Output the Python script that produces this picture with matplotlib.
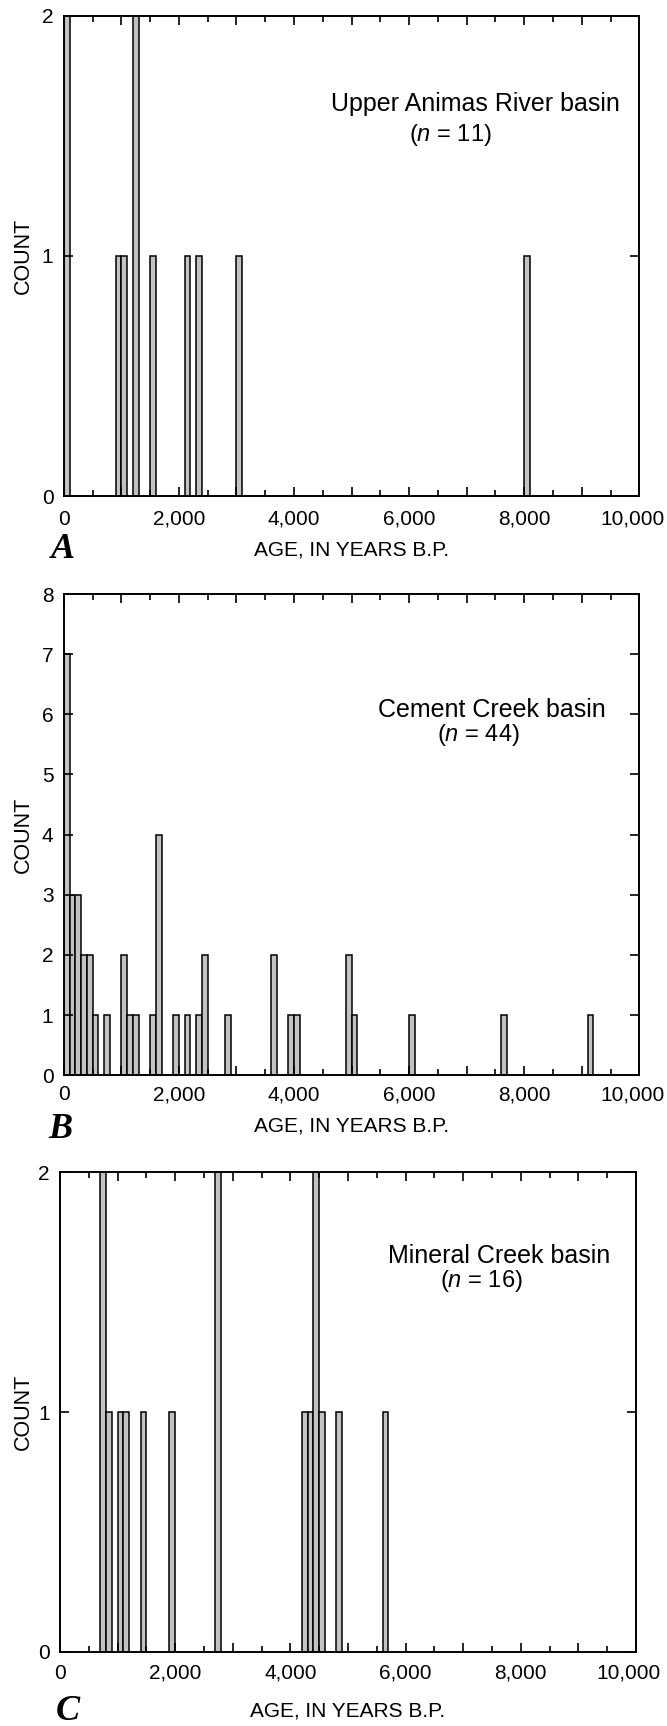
import matplotlib
matplotlib.use('Agg')
import matplotlib.pyplot as plt
from matplotlib.ticker import MultipleLocator
from matplotlib.transforms import ScaledTranslation

# Tipografías
plt.rcParams['font.family'] = ['Liberation Sans', 'DejaVu Sans']
plt.rcParams['mathtext.fontset'] = 'custom'
plt.rcParams['mathtext.it'] = 'Liberation Sans:italic'
plt.rcParams['mathtext.rm'] = 'Liberation Sans'

# Datos: inicio de cada intervalo de 100 años y número de dataciones
edades_a = [0, 900, 1000, 1200, 1500, 2100, 2300, 3000, 8000]
conteo_a = [2, 1, 1, 2, 1, 1, 1, 1, 1]

edades_b = [0, 100, 200, 300, 400, 500, 700, 1000, 1100, 1200, 1500, 1600, 1900,
            2100, 2300, 2400, 2800, 3600, 3900, 4000, 4900, 5000, 6000, 7600, 9100]
conteo_b = [7, 3, 3, 2, 2, 1, 1, 2, 1, 1, 1, 4, 1,
            1, 1, 2, 1, 2, 1, 1, 2, 1, 1, 1, 1]

edades_c = [700, 800, 1000, 1100, 1400, 1900, 2700, 4200, 4300, 4400, 4500, 4800, 5600]
conteo_c = [2, 1, 1, 1, 1, 1, 2, 1, 1, 2, 1, 1, 1]

cuencas = ['Upper Animas River basin', 'Cement Creek basin', 'Mineral Creek basin']
n_total = [11, 44, 16]
letras = ['A', 'B', 'C']
y_max = [2, 8, 2]
xticks = list(range(0, 10001, 1000))
xtick_labels = ['0', '', '2,000', '', '4,000', '', '6,000', '', '8,000', '', '10,000']

# Tamaño de la figura en píxeles
W, H = 667, 1726
fig = plt.figure(figsize=(W / 100, H / 100), dpi=100)


def fx(x):
    return x / W


def fy(y):
    return 1 - y / H


# Posición de cada panel (izquierda, derecha, arriba, abajo) en píxeles
cajas = [(63.8, 639.3, 15.7, 496.0),
         (63.8, 639.3, 594.0, 1075.3),
         (60.0, 635.9, 1172.3, 1651.7)]
pad_x = [10, 7, 8.5]
xlabel_y = [550.5, 1126.0, 1710.5]
letra_pos = [(62.5, 550), (60.5, 1130), (68, 1711)]
texto_pos = [((475, 104), (450, 135)),
             ((492, 710), (478.5, 735)),
             ((499.5, 1256), (481, 1281.5))]

datos = [(edades_a, conteo_a), (edades_b, conteo_b), (edades_c, conteo_c)]

for i in range(3):
    l, r, t, b = cajas[i]
    ax = fig.add_axes([fx(l), fy(b), fx(r) - fx(l), (b - t) / H])
    edades, conteo = datos[i]
    ax.bar(edades, conteo, width=100, align='edge', color='#c2c2c2',
           edgecolor='black', linewidth=1.1)

    ax.set_xlim(0, 10000)
    ax.set_ylim(0, y_max[i])
    ax.set_xticks(xticks)
    ax.set_xticklabels(xtick_labels)
    ax.xaxis.set_minor_locator(MultipleLocator(500))
    ax.set_yticks(range(0, y_max[i] + 1))

    for s in ax.spines.values():
        s.set_linewidth(1.4)
    ax.tick_params(axis='x', which='major', direction='in', top=True,
                   length=6.5, width=1.2, labelsize=15, pad=pad_x[i])
    ax.tick_params(axis='x', which='minor', direction='in', top=True,
                   length=4.3, width=1.2)
    ax.tick_params(axis='y', direction='in', right=True, length=6.5,
                   width=1.2, labelsize=15, pad=7.5)

    # El último rótulo va un poco a la izquierda para que quepa
    ultimo = ax.get_xticklabels()[-1]
    ultimo.set_transform(ultimo.get_transform() +
                         ScaledTranslation(-0.07, 0, fig.dpi_scale_trans))

    # Etiquetas de los ejes
    ax.set_ylabel('COUNT', fontsize=15.5)
    ax.yaxis.label.set_va('center')
    ax.yaxis.set_label_coords((23.4 - l) / (r - l), 0.5)
    ax.set_xlabel('AGE, IN YEARS B.P.', fontsize=15)
    ax.xaxis.label.set_va('center')
    ax.xaxis.set_label_coords(0.5, -(xlabel_y[i] - b) / (b - t))

    # Nombre de la cuenca y número de muestras
    (x1, y1), (x2, y2) = texto_pos[i]
    fig.text(fx(x1), fy(y1), cuencas[i], fontsize=18, ha='center', va='center')
    fig.text(fx(x2), fy(y2), r'($\mathit{n}$ = ' + str(n_total[i]) + ')',
             fontsize=17, ha='center', va='center')

    # Letra del panel
    lx, ly = letra_pos[i]
    fig.text(fx(lx), fy(ly), letras[i], fontsize=26, ha='center', va='center',
             family=['Liberation Serif', 'DejaVu Serif'], fontweight='bold',
             fontstyle='italic')

fig.savefig('out.png', dpi=100)
